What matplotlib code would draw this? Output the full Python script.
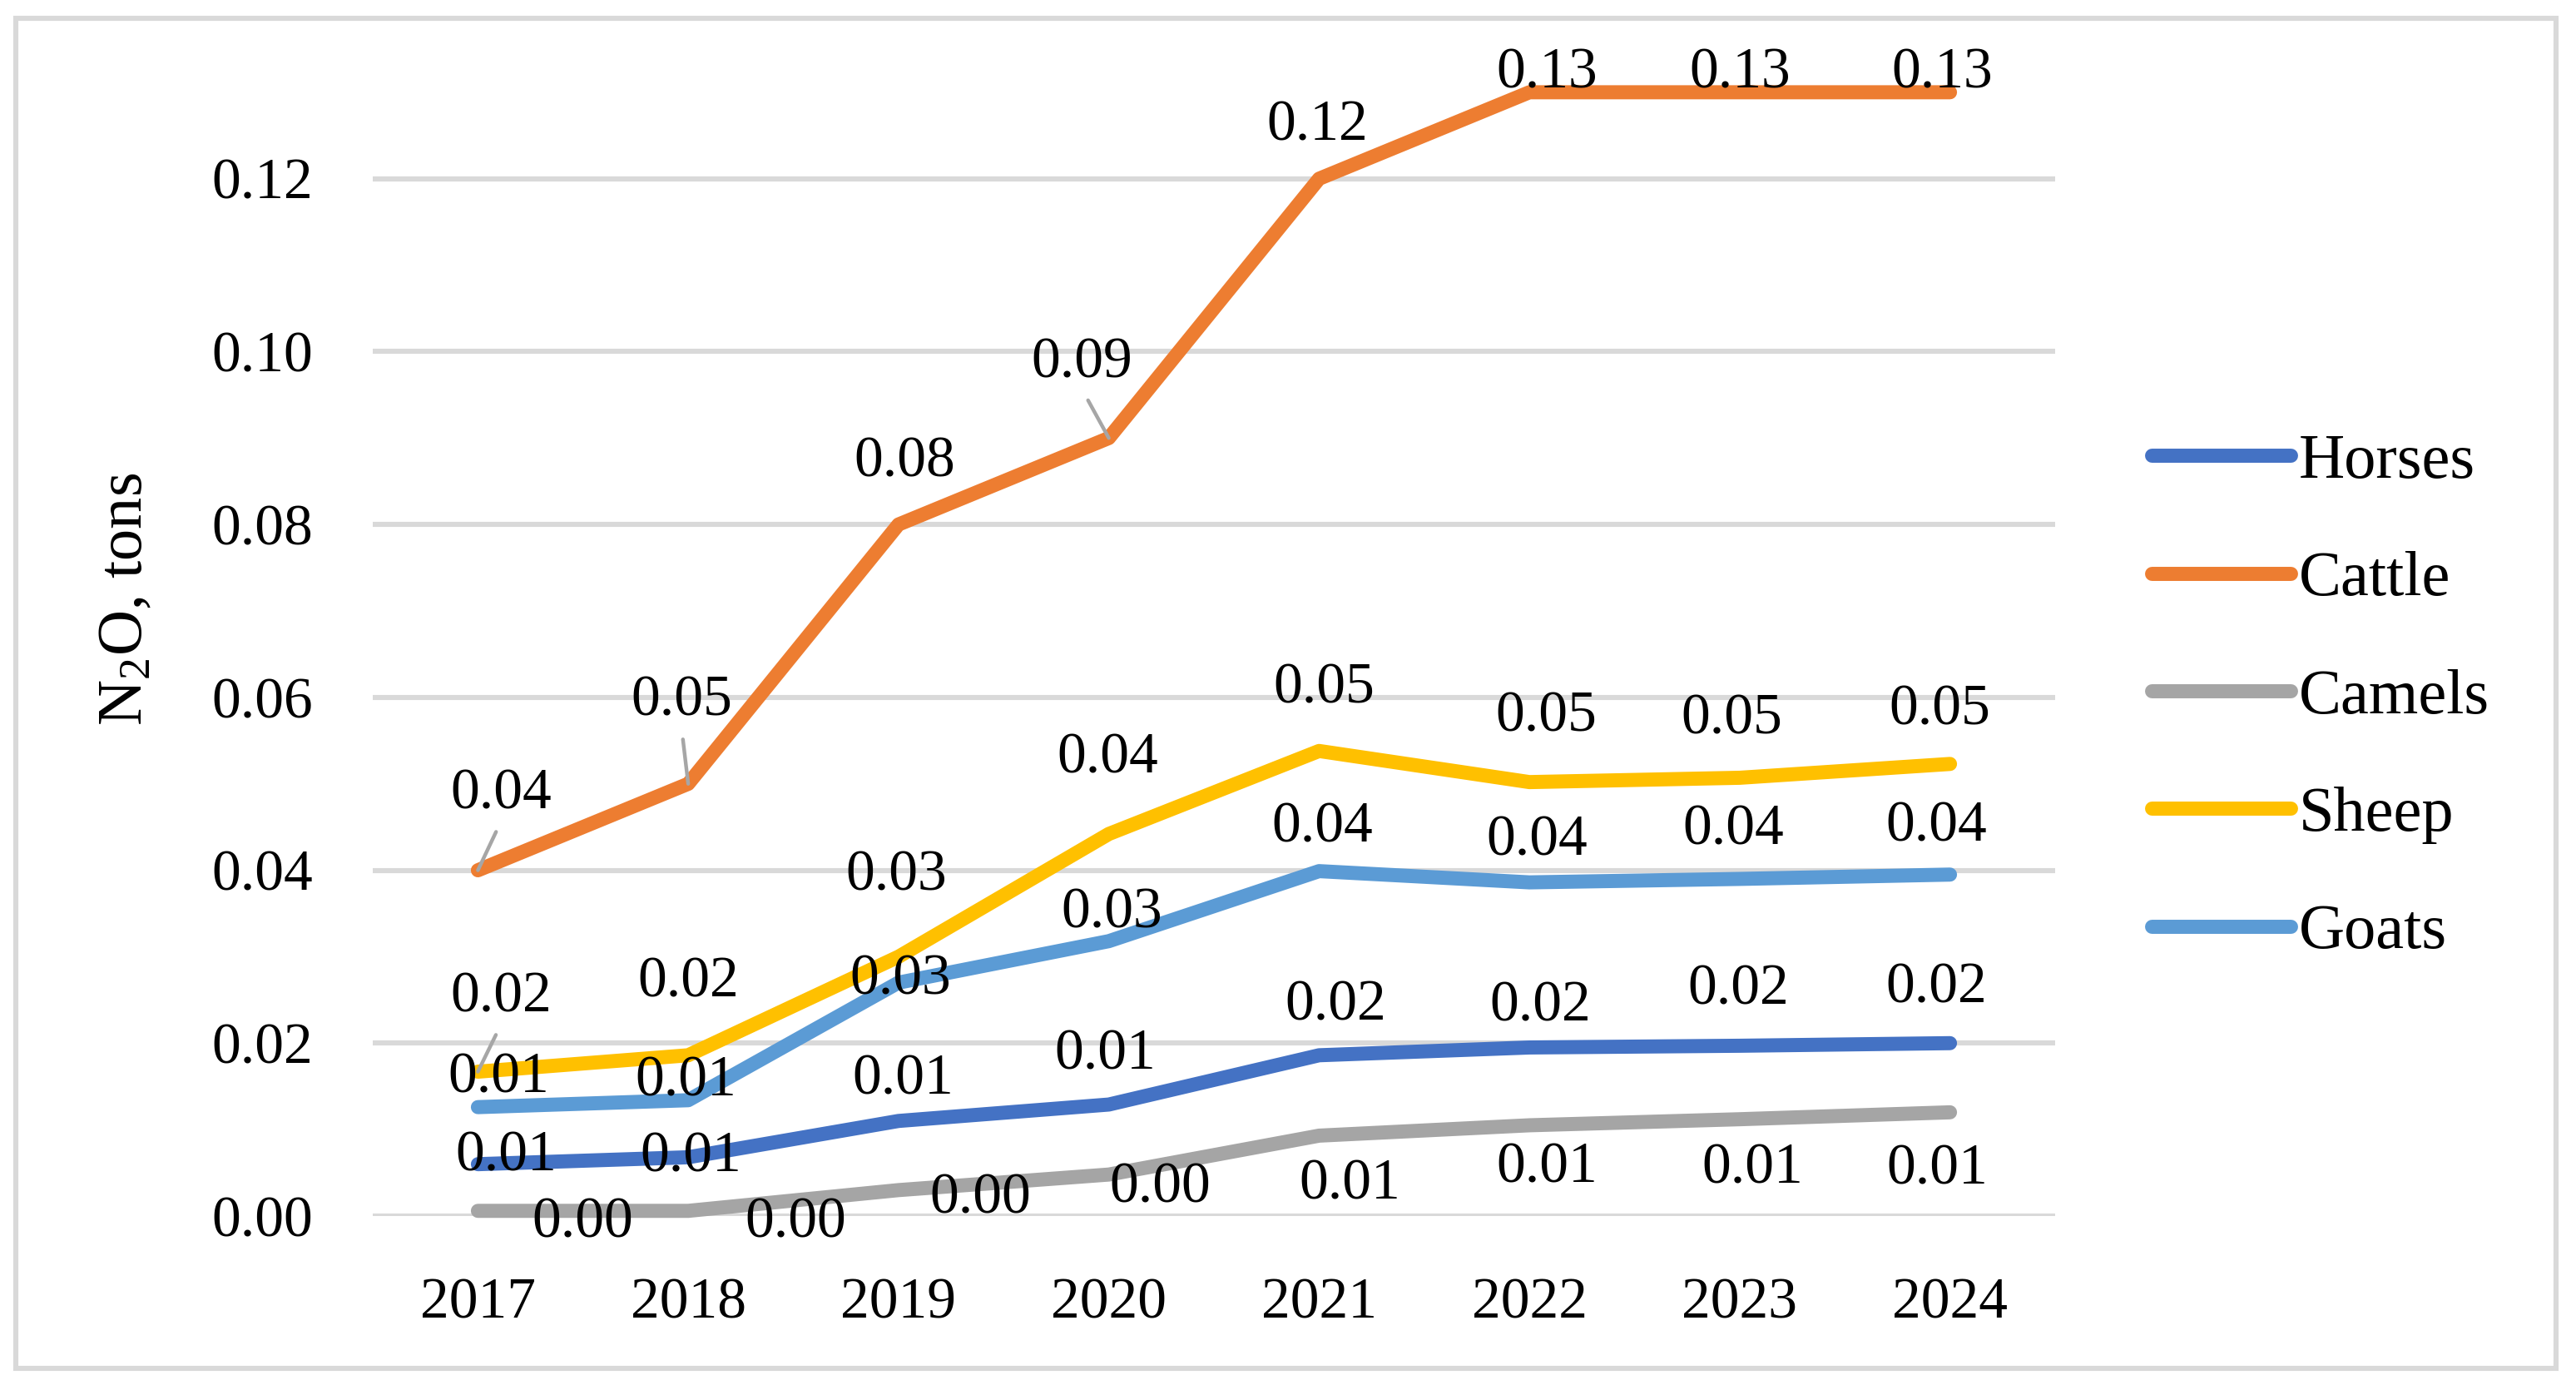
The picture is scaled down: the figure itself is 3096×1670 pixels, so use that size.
import matplotlib
matplotlib.use("Agg")
import matplotlib.pyplot as plt
from matplotlib.patches import Rectangle

plt.rcParams['font.family'] = ['Liberation Serif', 'DejaVu Serif']
plt.rcParams['mathtext.fontset'] = 'custom'
plt.rcParams['mathtext.rm'] = 'Liberation Serif'
plt.rcParams['mathtext.it'] = 'Liberation Serif:italic'

years = ['2017', '2018', '2019', '2020', '2021', '2022', '2023', '2024']
series_names = ['Horses', 'Cattle', 'Camels', 'Sheep', 'Goats']
horses = [0.0060, 0.0068, 0.0110, 0.0129, 0.0186, 0.0195, 0.0197, 0.0200]
cattle = [0.0400, 0.0500, 0.0800, 0.0900, 0.1200, 0.1300, 0.1300, 0.1300]
camels = [0.0006, 0.0006, 0.0030, 0.0048, 0.0093, 0.0105, 0.0112, 0.0120]
sheep = [0.0167, 0.0186, 0.0300, 0.0442, 0.0538, 0.0502, 0.0507, 0.0523]
goats = [0.0126, 0.0134, 0.0270, 0.0318, 0.0399, 0.0386, 0.0390, 0.0395]
yticks = [0.00, 0.02, 0.04, 0.06, 0.08, 0.10, 0.12]

colors = {'Horses': '#4472C4', 'Cattle': '#ED7D31', 'Camels': '#A5A5A5',
          'Sheep': '#FFC000', 'Goats': '#5B9BD5'}

# data-label offsets in pixels (dx, dy) relative to each point
label_offsets = {
    'Cattle': [(28, 98), (-8, 106), (7, 81), (-32, 97), (-2, 70), (21, 29), (0, 29), (-9, 29)],
    'Sheep': [(28, 96), (0, 94), (-3, 104), (-1, 97), (6, 81), (20, 85), (-10, 77), (-12, 71)],
    'Goats': [(25, 41), (-3, 29), (2, 10), (4, 40), (4, 59), (9, 56), (-8, 65), (-16, 64)],
    'Horses': [(34, 16), (3, 7), (5, 56), (-4, 66), (20, 66), (13, 56), (-2, 74), (-16, 73)],
    'Camels': [(126, -8), (129, -8), (98, -4), (62, -10), (37, -52), (21, -45), (15, -53), (-15, -62)],
}
dy_adjust = -7
leaders = {('Cattle', 0), ('Cattle', 1), ('Cattle', 3), ('Sheep', 0)}

data = {'Horses': horses, 'Cattle': cattle, 'Camels': camels, 'Sheep': sheep, 'Goats': goats}

W, H, DPI = 3096, 1670, 200
fig = plt.figure(figsize=(W / DPI, H / DPI), dpi=DPI)
fig.patch.set_facecolor('white')

# outer border
fig.patches.append(Rectangle((19 / W, 26 / H), (3072 - 19) / W, (1644 - 22) / H,
                             transform=fig.transFigure, fill=False,
                             edgecolor='#D9D9D9', linewidth=2.2, zorder=0))

ax = fig.add_axes([448 / W, (H - 1461) / H, 2022 / W, 1454 / H])
x = list(range(len(years)))
fs = 25
fs_leg = 27.5

lines = {}
for name in series_names:
    ln, = ax.plot(x, data[name], color=colors[name], linewidth=6.1,
                  solid_capstyle='round', solid_joinstyle='round',
                  zorder=3, clip_on=False, label=name)
    lines[name] = ln

for name in ['Camels', 'Horses', 'Goats', 'Sheep', 'Cattle']:
    for i, v in enumerate(data[name]):
        dx, dy = label_offsets[name][i]
        kw = {}
        if (name, i) in leaders:
            kw['arrowprops'] = dict(arrowstyle='-', color='#A6A6A6', lw=1.6,
                                    shrinkA=3, shrinkB=0, relpos=(0.5, 0.0))
        ax.annotate(f'{v:.2f}', xy=(i, v), xytext=(dx, dy + dy_adjust),
                    textcoords='offset pixels', ha='center', va='center',
                    fontsize=fs, color='black', zorder=5, annotation_clip=False, **kw)

ax.set_xlim(-0.5, len(years) - 0.5)
ax.set_ylim(0, 0.14)
ax.set_yticks(yticks)
ax.set_yticklabels([f'{t:.2f}' for t in yticks])
ax.set_xticks(x)
ax.set_xticklabels(years)
ax.tick_params(axis='both', length=0, labelsize=fs)
ax.tick_params(axis='y', pad=26)
ax.tick_params(axis='x', pad=26.5)
ax.grid(axis='y', color='#D9D9D9', linewidth=2.2, zorder=0)
ax.set_axisbelow(True)
for s in ax.spines.values():
    s.set_visible(False)

fig.text(152 / W, 1 - 720 / H, r'N$_2$O, tons', rotation=90, ha='center', va='center',
         fontsize=27.5)

leg = ax.legend(handles=[lines[n] for n in series_names], loc='center left',
                bbox_to_anchor=(2586 / W, 1 - 838 / H), bbox_transform=fig.transFigure,
                frameon=False, fontsize=fs_leg, handlelength=2.19, handletextpad=0.12,
                labelspacing=0.94, borderpad=0, borderaxespad=0)

fig.savefig('out.png', dpi=DPI, facecolor='white')
